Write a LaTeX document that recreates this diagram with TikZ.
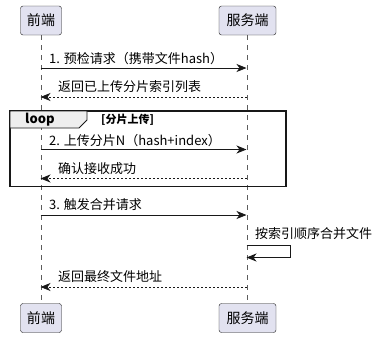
\documentclass[tikz,border=0pt]{standalone}
\usepackage{fontspec}
\setmainfont{Noto Sans CJK SC}
\usetikzlibrary{arrows.meta}

\definecolor{partfill}{HTML}{E2E2F0}
\definecolor{partline}{HTML}{181818}
\definecolor{tabfill}{HTML}{EEEEEE}

\begin{document}
\begin{tikzpicture}[x=1pt,y=-1pt,
  actor/.style={rectangle,draw=partline,fill=partfill,rounded corners=2.5pt,minimum height=29pt,inner sep=0pt,font=\fontsize{14}{16}\selectfont},
  life/.style={draw=partline!70,dash pattern=on 5pt off 5pt,line width=0.5pt},
  msg/.style={anchor=west,inner sep=0pt,font=\fontsize{13}{15}\selectfont},
  arrow/.style={-{Stealth[length=10pt,width=8pt,inset=3pt]},draw=partline,line width=0.8pt},
  reply/.style={arrow,dash pattern=on 2pt off 2pt}
]
\useasboundingbox (0,0) rectangle (377,338);
% participants
\node[actor,minimum width=41pt] (fe) at (41,20.5) {前端};
\node[actor,minimum width=57pt] (srv) at (247.5,20.5) {服务端};
\node[actor,minimum width=41pt] (feB) at (41,318) {前端};
\node[actor,minimum width=57pt] (srvB) at (247.5,318) {服务端};
\draw[life] (fe) -- (feB);
\draw[life] (srv) -- (srvB);
% lifeline points
\coordinate (f1) at (40.5,68);    \coordinate (s1) at (246.5,68);
\coordinate (f2) at (40.5,97);    \coordinate (s2) at (246.5,97);
\coordinate (f3) at (40.5,149.5); \coordinate (s3) at (246.5,149.5);
\coordinate (f4) at (40.5,178.5); \coordinate (s4) at (246.5,178.5);
\coordinate (f5) at (40.5,215);   \coordinate (s5) at (246.5,215);
\coordinate (s6) at (246.5,245);  \coordinate (s7) at (246.5,257.5);
\coordinate (f8) at (40.5,287);   \coordinate (s8) at (246.5,287);
% loop frame
\draw[partline,line width=1.5pt] (10,111) rectangle (286,186.5);
\draw[partline,fill=tabfill,line width=0.8pt] (10,111) -- (87,111) -- (87,120) -- (79,128) -- (10,128) -- cycle;
\node[anchor=west,inner sep=0pt,font=\fontsize{13}{15}\selectfont\bfseries] (looplbl) at (25,120) {loop};
\node[anchor=west,inner sep=0pt,font=\fontsize{11}{13}\selectfont\bfseries] (loopcond) at (101,120) {[分片上传]};
% messages
\draw[arrow] (f1) -- (s1);
\node[msg] (t1) at (49,58.5) {1. 预检请求（携带文件hash）};
\draw[reply] (s2) -- (f2);
\node[msg] (t2) at (58,87) {返回已上传分片索引列表};
\draw[arrow] (f3) -- (s3);
\node[msg] (t3) at (49,141) {2. 上传分片N（hash+index）};
\draw[reply] (s4) -- (f4);
\node[msg] (t4) at (58,169) {确认接收成功};
\draw[arrow] (f5) -- (s5);
\node[msg] (t5) at (49,205) {3. 触发合并请求};
\draw[arrow] (s6) -- (290,245) -- (290,257.5) -- (s7);
\node[msg] (t6) at (255,233.5) {按索引顺序合并文件};
\draw[reply] (s8) -- (f8);
\node[msg] (t7) at (58,277) {返回最终文件地址};
\end{tikzpicture}
\end{document}
